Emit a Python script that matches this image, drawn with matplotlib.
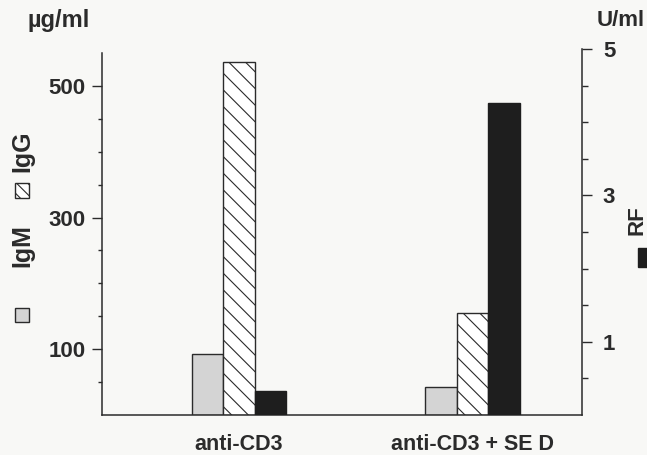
import matplotlib.pyplot as plt
import numpy as np
from matplotlib.patches import Rectangle

# data
groups = ['anti-CD3', 'anti-CD3 + SE D']
igm = [93, 43]        # µg/ml
igg = [536, 155]      # µg/ml
rf = [0.33, 4.26]     # U/ml

plt.rcParams['font.family'] = ['Liberation Sans', 'DejaVu Sans']
plt.rcParams['font.weight'] = 'bold'
plt.rcParams['hatch.linewidth'] = 0.8

W, H = 647, 455
fig = plt.figure(figsize=(W / 100, H / 100), dpi=100)
fig.patch.set_facecolor('#f8f8f6')

def fx(px):
    return px / W

def fy(py):
    return 1 - py / H

ax = fig.add_axes([fx(102), fy(415), fx(582) - fx(102), fy(49) - fy(415)])
ax.patch.set_alpha(0)
ax2 = ax.twinx()

ink = '#2b2b2b'
x = np.arange(len(groups))
w = 0.1346
ax.bar(x - w, igm, w, color='#d4d4d4', edgecolor=ink, lw=1)
ax.bar(x, igg, w, color='white', edgecolor=ink, hatch='\\\\', lw=1)
ax2.bar(x + w, rf, w, color='#1e1e1e', edgecolor='#1e1e1e', lw=1)

ax.set_xlim(-0.585, 1.468)
ax.set_ylim(0, 556)
ax2.set_ylim(0, 5)

for s in ['top', 'right']:
    ax.spines[s].set_visible(False)
for s in ['top', 'left', 'bottom']:
    ax2.spines[s].set_visible(False)
ax.spines['left'].set_bounds(0, 550)
for sp in [ax.spines['left'], ax.spines['bottom'], ax2.spines['right']]:
    sp.set_color(ink)
    sp.set_linewidth(1.1)

# left axis
ax.set_yticks([100, 300, 500])
ax.set_yticks([50, 150, 200, 250, 350, 400, 450], minor=True)
ax.tick_params(axis='y', which='major', length=7, width=1, color=ink,
               labelsize=16, labelcolor=ink, pad=5)
ax.tick_params(axis='y', which='minor', length=3, width=1, color=ink)

# right axis
ax2.set_yticks([1, 3, 5])
ax2.set_yticks([0.5, 1.5, 2, 2.5, 3.5, 4, 4.5], minor=True)
ax2.tick_params(axis='y', which='major', length=7, width=1, color=ink,
                labelsize=16, labelcolor=ink, pad=8)
ax2.tick_params(axis='y', which='minor', length=4, width=1, color=ink)

ax.set_xticks(x, groups)
ax.tick_params(axis='x', length=0, labelsize=15.5, labelcolor=ink, pad=14)

# unit labels
fig.text(fx(27), fy(21), 'µg/ml', fontsize=17, color=ink, ha='left', va='center')
fig.text(fx(597), fy(21), 'U/ml', fontsize=16, color=ink, ha='left', va='center')

# legend on the sides
fig.text(fx(22), fy(151), 'IgG', rotation=90, fontsize=18, color=ink, ha='center', va='center')
fig.add_artist(Rectangle((fx(15), fy(198)), fx(14), 15 / H, transform=fig.transFigure,
                         facecolor='white', edgecolor=ink, hatch='\\\\\\', lw=1))
fig.text(fx(22), fy(246), 'IgM', rotation=90, fontsize=18, color=ink, ha='center', va='center')
fig.add_artist(Rectangle((fx(15), fy(322)), fx(14), 14 / H, transform=fig.transFigure,
                         facecolor='#d4d4d4', edgecolor=ink, lw=1))
fig.text(fx(637), fy(220), 'RF', rotation=90, fontsize=16, color=ink, ha='center', va='center')
fig.add_artist(Rectangle((fx(638), fy(267)), fx(16), 19 / H, transform=fig.transFigure,
                         facecolor='#1e1e1e', edgecolor='#1e1e1e', lw=1))

fig.savefig('out.png', dpi=100, facecolor=fig.get_facecolor())
